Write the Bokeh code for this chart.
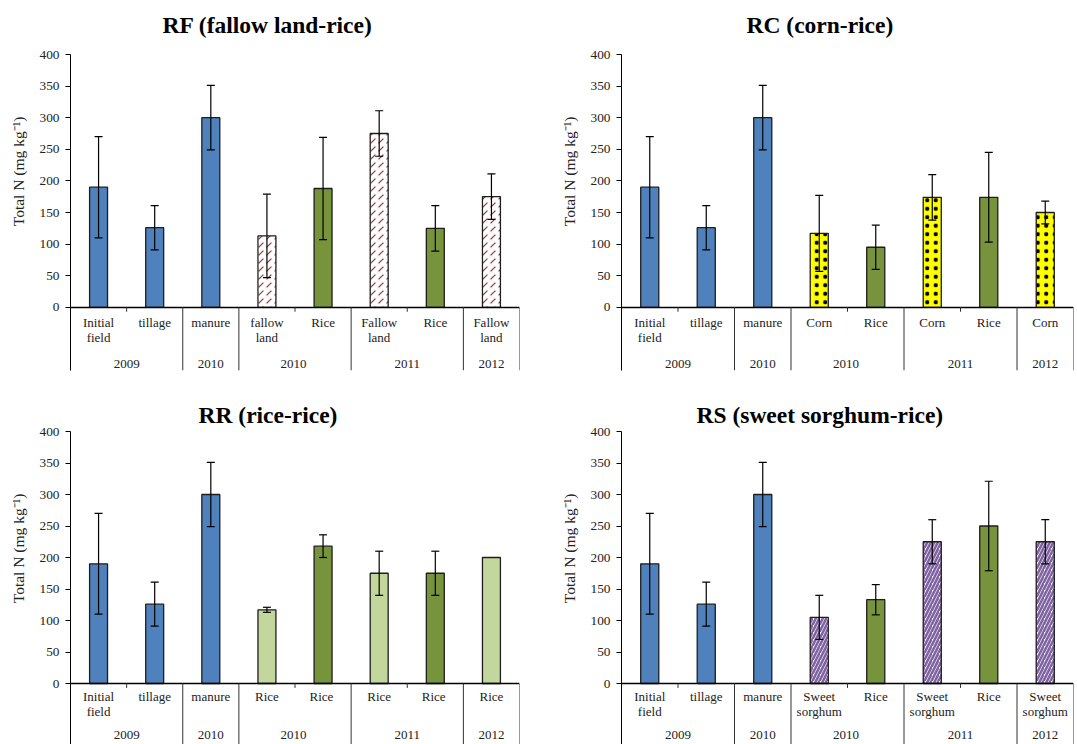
import math
from bokeh.plotting import figure
from bokeh.models import (FactorRange, Range1d, FixedTicker, ColumnDataSource,
                          Whisker, TeeHead, Title)
from bokeh.layouts import column, row
from bokeh.embed import file_html
from bokeh.resources import INLINE

# ---------------- data ----------------
years = ["2009", "2009", "2010", "2010", "2010", "2011", "2011", "2012"]
blocks = [0, 0, 1, 2, 2, 3, 3, 4]          # 2010 appears as two separate blocks
y_ticks = [0, 50, 100, 150, 200, 250, 300, 350, 400]

rf_title = "RF (fallow land-rice)"
rf_labels = ["Initial\nfield", "tillage", "manure", "fallow\nland", "Rice", "Fallow\nland", "Rice", "Fallow\nland"]
rf_values = [190, 126, 300, 113, 188, 275, 125, 175]
rf_errors = [80, 35, 51, 66, 81, 36, 36, 36]
rf_kinds = ["base", "base", "base", "fallow", "rice", "fallow", "rice", "fallow"]

rc_title = "RC (corn-rice)"
rc_labels = ["Initial\nfield", "tillage", "manure", "Corn", "Rice", "Corn", "Rice", "Corn"]
rc_values = [190, 126, 300, 117, 95, 174, 174, 150]
rc_errors = [80, 35, 51, 60, 35, 36, 71, 18]
rc_kinds = ["base", "base", "base", "corn", "rice", "corn", "rice", "corn"]

rr_title = "RR (rice-rice)"
rr_labels = ["Initial\nfield", "tillage", "manure", "Rice", "Rice", "Rice", "Rice", "Rice"]
rr_values = [190, 126, 300, 117, 218, 175, 175, 200]
rr_errors = [80, 35, 51, 4, 18, 35, 35, 0]
rr_kinds = ["base", "base", "base", "rice_light", "rice", "rice_light", "rice", "rice_light"]

rs_title = "RS (sweet sorghum-rice)"
rs_labels = ["Initial\nfield", "tillage", "manure", "Sweet\nsorghum", "Rice", "Sweet\nsorghum", "Rice", "Sweet\nsorghum"]
rs_values = [190, 126, 300, 105, 133, 225, 250, 225]
rs_errors = [80, 35, 51, 35, 24, 35, 71, 35]
rs_kinds = ["base", "base", "base", "sorghum", "rice", "sorghum", "rice", "sorghum"]

y_label = "Total N (mg kg\u207b\u00b9)"

# ---------------- styles ----------------
FONT = "Liberation Serif"
TXT = "#222222"
STYLE = {
    "base":       dict(fill_color="#4f81bd", hatch_pattern=" "),
    "rice":       dict(fill_color="#77933c", hatch_pattern=" "),
    "rice_light": dict(fill_color="#c3d69b", hatch_pattern=" "),
    "fallow":     dict(fill_color="white", hatch_pattern=",", hatch_color="#953735", hatch_scale=8, hatch_weight=1.2),
    "corn":       dict(fill_color="#ffff00", hatch_pattern=".", hatch_color="black", hatch_scale=8.5, hatch_weight=0.5),
    "sorghum":    dict(fill_color="white", hatch_pattern="/", hatch_color="#8064a2", hatch_scale=7, hatch_weight=2.6),
}


def make_keys(labels):
    keys, gname, used = [], {}, {}
    for yr, blk, lab in zip(years, blocks, labels):
        if blk not in gname:
            n = used.get(yr, 0)
            gname[blk] = yr + " " * n
            used[yr] = n + 1
        g, sub = gname[blk], lab
        while (g, sub) in keys:
            sub += " "
        keys.append((g, sub))
    return keys


def panel(title, labels, values, errors, kinds, fig_w, fig_h, b_left, b_top,
          frame_w, frame_h, y_start, t_offset, t_gap, standoff):
    keys = make_keys(labels)
    p = figure(x_range=FactorRange(factors=keys, group_padding=0, subgroup_padding=0,
                                   factor_padding=0, range_padding=0),
               y_range=Range1d(y_start, 400),
               width=fig_w, height=fig_h,
               min_border_left=b_left, min_border_top=b_top,
               min_border_right=fig_w - b_left - frame_w,
               min_border_bottom=fig_h - b_top - frame_h,
               output_backend="svg", toolbar_location=None, title=title)
    p.outline_line_color = None
    p.xgrid.visible = False
    p.ygrid.visible = False

    # panel title
    t = p.title
    t.text_font = FONT
    t.text_font_size = "23.5px"
    t.text_font_style = "bold"
    t.text_color = "black"
    t.align = "left"
    t.offset = t_offset
    t.standoff = 0
    t.padding = dict(left=0, right=0, top=0, bottom=t_gap)

    # bars, one call per kind
    for kind, st in STYLE.items():
        idx = [i for i, k in enumerate(kinds) if k == kind]
        if not idx:
            continue
        src = ColumnDataSource(dict(x=[keys[i] for i in idx], top=[values[i] for i in idx]))
        p.vbar(x="x", top="top", bottom=0, width=0.32, source=src,
               line_color="#1e1e1e", line_width=1.3, **st)

    # error bars
    eidx = [i for i, e in enumerate(errors) if e > 0]
    esrc = ColumnDataSource(dict(x=[keys[i] for i in eidx],
                                 upper=[values[i] + errors[i] for i in eidx],
                                 lower=[values[i] - errors[i] for i in eidx]))
    p.add_layout(Whisker(base="x", upper="upper", lower="lower", source=esrc, level="overlay",
                         line_color="black", line_width=1.2,
                         upper_head=TeeHead(size=8, line_color="black", line_width=1.2),
                         lower_head=TeeHead(size=8, line_color="black", line_width=1.2)))

    # category separators (Excel-like multi-level axis)
    n = len(blocks)
    group_edges = [i for i in range(1, n) if blocks[i] != blocks[i - 1]] + [n]
    tick_edges = [i for i in range(1, n) if blocks[i] == blocks[i - 1]]
    ssrc = ColumnDataSource(dict(x=group_edges, up=[0] * len(group_edges), lo=[y_start] * len(group_edges)))
    p.add_layout(Whisker(base="x", upper="up", lower="lo", source=ssrc, level="overlay",
                         line_color="#333333", line_width=1, upper_head=None, lower_head=None))
    tsrc = ColumnDataSource(dict(x=tick_edges, up=[0] * len(tick_edges), lo=[-7] * len(tick_edges)))
    p.add_layout(Whisker(base="x", upper="up", lower="lo", source=tsrc, level="overlay",
                         line_color="#333333", line_width=1, upper_head=None, lower_head=None))

    # x axis (multi-level categories) at y = 0
    xa = p.xaxis[0]
    xa.fixed_location = 0
    xa.axis_line_color = "black"
    xa.axis_line_width = 1.5
    xa.major_tick_line_color = None
    xa.major_tick_out = 0
    xa.major_tick_in = 0
    xa.separator_line_color = None
    xa.major_label_standoff = standoff
    xa.major_label_text_font = FONT
    xa.major_label_text_font_size = "13px"
    xa.major_label_text_color = TXT
    xa.major_label_text_line_height = 1.0
    xa.group_text_font = FONT
    xa.group_text_font_size = "13px"
    xa.group_text_font_style = "normal"
    xa.group_text_color = TXT

    # y axis
    ya = p.yaxis[0]
    ya.ticker = FixedTicker(ticks=y_ticks)
    ya.axis_line_color = "black"
    ya.axis_line_width = 1
    ya.major_tick_line_color = "black"
    ya.major_tick_out = 5
    ya.major_tick_in = 0
    ya.minor_tick_line_color = None
    ya.major_label_standoff = 6
    ya.major_label_text_font = FONT
    ya.major_label_text_font_size = "13.3px"
    ya.major_label_text_color = TXT

    # y axis title, placed like Excel (centred on the 0-400 part of the axis)
    p.add_layout(Title(text=y_label, align="right", offset=62, vertical_align="top",
                       standoff=16, text_font=FONT, text_font_size="15.5px",
                       text_font_style="normal", text_color=TXT), "left")
    return p


p1 = panel(rf_title, rf_labels, rf_values, rf_errors, rf_kinds, 540, 380, 70, 54, 449, 316, -100, 92, 17, 8)
p2 = panel(rc_title, rc_labels, rc_values, rc_errors, rc_kinds, 537, 380, 81, 54, 452, 316, -100, 125, 17, 8)
p3 = panel(rr_title, rr_labels, rr_values, rr_errors, rr_kinds, 540, 364, 70, 51, 449, 313, -96.8, 128, 4, 5)
p4 = panel(rs_title, rs_labels, rs_values, rs_errors, rs_kinds, 537, 364, 81, 51, 452, 313, -96.8, 75, 4, 5)

layout = column(row(p1, p2), row(p3, p4))
open("out.html", "w").write(file_html(layout, INLINE))
